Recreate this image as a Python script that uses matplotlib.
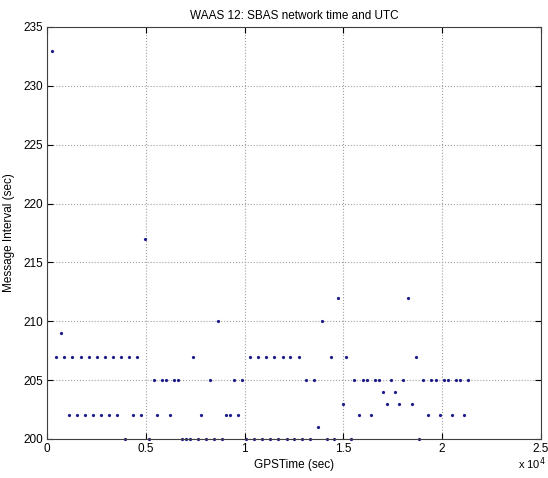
import numpy as np
import matplotlib.pyplot as plt

plt.rcParams['font.family'] = ['Liberation Sans', 'DejaVu Sans']

# 读图得到的点 (GPS时间单位 1e4 sec, 消息间隔 sec)
t_233 = [0.025]
t_217 = [0.497]
t_212 = [1.475, 1.826]
t_210 = [0.865, 1.394]
t_209 = [0.068]
t_207 = [0.044, 0.086, 0.127, 0.169, 0.211, 0.252, 0.292, 0.334, 0.375, 0.416, 0.456,
         0.74, 1.029, 1.070, 1.110, 1.151, 1.192, 1.232, 1.273, 1.436, 1.515, 1.867]
t_205 = [0.539, 0.579, 0.600, 0.640, 0.660, 0.824, 0.946, 0.986, 1.312, 1.351, 1.556,
         1.598, 1.618, 1.659, 1.681, 1.742, 1.804, 1.905, 1.946, 1.970, 2.008, 2.029,
         2.071, 2.091, 2.132]
t_204 = [1.703, 1.762]
t_203 = [1.498, 1.721, 1.784, 1.846]
t_202 = [0.108, 0.149, 0.189, 0.231, 0.274, 0.314, 0.355, 0.434, 0.475, 0.557, 0.620,
         0.780, 0.904, 0.924, 0.965, 1.579, 1.640, 1.927, 1.988, 2.051, 2.111]
t_201 = [1.373]
t_200 = [0.395, 0.517, 0.682, 0.703, 0.723, 0.764, 0.804, 0.845, 0.885, 1.009, 1.049,
         1.090, 1.130, 1.171, 1.212, 1.252, 1.293, 1.333, 1.415, 1.455, 1.537, 1.885]

groups = {233: t_233, 217: t_217, 212: t_212, 210: t_210, 209: t_209, 207: t_207,
          205: t_205, 204: t_204, 203: t_203, 202: t_202, 201: t_201, 200: t_200}

x = []
y = []
for val, ts in groups.items():
    for t in ts:
        x.append(t * 1e4)
        y.append(val)
x = np.array(x)
y = np.array(y)

x_ticks = [0, 5000, 10000, 15000, 20000, 25000]
x_tick_labels = ['0', '0.5', '1', '1.5', '2', '2.5']
y_ticks = list(range(200, 236, 5))

fig = plt.figure(figsize=(5.48, 4.78), dpi=100)
ax = fig.add_axes([0.0863, 0.0816, 0.9004, 0.862])

ax.plot(x, y, '.', color='#1c1c8c', markersize=2.6, clip_on=False)

ax.set_xlim(0, 25000)
ax.set_ylim(200, 235)
ax.set_xticks(x_ticks)
ax.set_xticklabels(x_tick_labels)
ax.set_yticks(y_ticks)
ax.grid(True, linestyle=':', color='#a0a0a0', linewidth=0.8)
ax.tick_params(direction='in', top=True, right=True, length=4, labelsize=8.5, pad=3)
for s in ax.spines.values():
    s.set_linewidth(0.8)
    s.set_color('#404040')

ax.set_title('WAAS 12: SBAS network time and UTC', fontsize=8.5, pad=6)
ax.set_xlabel('GPSTime (sec)', fontsize=8.5, labelpad=3)
ax.set_ylabel('Message Interval (sec)', fontsize=8.5, labelpad=6)
fig.text(0.945, 0.030, r'x 10$^4$', fontsize=8, ha='left', va='center')

fig.savefig('out.png', dpi=100)
